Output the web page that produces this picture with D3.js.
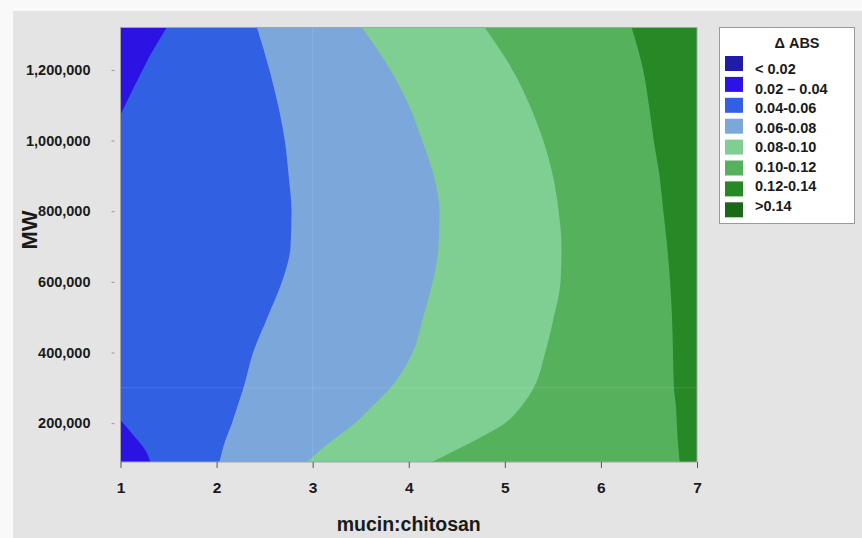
<!DOCTYPE html>
<html>
<head>
<meta charset="utf-8">
<script src="https://cdn.jsdelivr.net/npm/d3@7"></script>
<style>
  html, body { margin: 0; padding: 0; background: #f9f9f9; }
  svg { display: block; font-family: "Liberation Sans", Arial, sans-serif; }
  .tick text { font-weight: bold; fill: #1a1a1a; }
  .axis-label { font-weight: bold; fill: #1a1a1a; }
  .legend-text { font-weight: bold; fill: #1a1a1a; font-size: 14.5px; }
</style>
</head>
<body>
<div id="chart"></div>
<script>
// MW sample levels (y) and x-position (mucin:chitosan) of each contour boundary at those levels
const MW_LEVELS = [90000, 150000, 200000, 250000, 300000, 400000, 500000, 600000, 700000, 800000, 900000, 1000000, 1100000, 1200000, 1320000];
const EDGE_006 = [2.03, 2.09, 2.16, 2.22, 2.28, 2.38, 2.53, 2.68, 2.77, 2.78, 2.75, 2.71, 2.64, 2.55, 2.42];
const EDGE_008 = [2.94, 3.20, 3.44, 3.63, 3.81, 4.04, 4.15, 4.25, 4.31, 4.32, 4.26, 4.14, 4.00, 3.81, 3.51];
const EDGE_010 = [4.24, 4.68, 5.00, 5.18, 5.30, 5.42, 5.51, 5.58, 5.59, 5.56, 5.50, 5.40, 5.26, 5.08, 4.79];
const EDGE_012 = [6.82, 6.80, 6.79, 6.78, 6.76, 6.75, 6.74, 6.72, 6.69, 6.65, 6.61, 6.55, 6.50, 6.44, 6.32];

// the 0.04 boundary only appears in the two left corners
const TOP_CORNER_MW    = [1073000, 1146000, 1200000, 1242000, 1279000, 1320000];
const TOP_CORNER_X     = [1.00, 1.13, 1.23, 1.31, 1.39, 1.48];
const BOTTOM_CORNER_MW = [90000, 123000, 161000, 208000];
const BOTTOM_CORNER_X  = [1.31, 1.26, 1.15, 1.00];

const LEGEND_LABELS = ["< 0.02", "0.02 \u2013 0.04", "0.04-0.06", "0.06-0.08", "0.08-0.10", "0.10-0.12", "0.12-0.14", ">0.14"];
const LEGEND_COLORS = ["#1e1ca8", "#2b14e3", "#3260e3", "#7ba7da", "#80cf92", "#55b15c", "#278826", "#196a14"];

const X_TICKS = [1, 2, 3, 4, 5, 6, 7];
const Y_TICKS = [200000, 400000, 600000, 800000, 1000000, 1200000];

const W = 862, H = 538;
const MARGIN = { top: 27.5, right: 165, bottom: 76, left: 120.5 };

const svg = d3.select("#chart").append("svg")
  .attr("width", W).attr("height", H);

// grey panel
svg.append("rect")
  .attr("x", 13).attr("y", 11)
  .attr("width", W - 13).attr("height", H - 11)
  .attr("fill", "#e4e4e4");

const x = d3.scaleLinear().domain([1, 7]).range([MARGIN.left, W - MARGIN.right]);
const y = d3.scaleLinear().domain([90000, 1320000]).range([H - MARGIN.bottom, MARGIN.top]);

const plotG = svg.append("g");

// rightmost band fills the whole plot, the others are painted left of each boundary
plotG.append("rect")
  .attr("x", x(1)).attr("y", y(1320000))
  .attr("width", x(7) - x(1)).attr("height", y(90000) - y(1320000))
  .attr("fill", LEGEND_COLORS[6]);

const area = d3.area()
  .curve(d3.curveMonotoneY)
  .y(d => y(d[0]))
  .x0(x(1))
  .x1(d => x(d[1]));

const bands = [
  { mw: MW_LEVELS, xs: EDGE_012, color: LEGEND_COLORS[5] },
  { mw: MW_LEVELS, xs: EDGE_010, color: LEGEND_COLORS[4] },
  { mw: MW_LEVELS, xs: EDGE_008, color: LEGEND_COLORS[3] },
  { mw: MW_LEVELS, xs: EDGE_006, color: LEGEND_COLORS[2] },
  { mw: TOP_CORNER_MW, xs: TOP_CORNER_X, color: LEGEND_COLORS[1] },
  { mw: BOTTOM_CORNER_MW, xs: BOTTOM_CORNER_X, color: LEGEND_COLORS[1] }
];

plotG.selectAll(".band")
  .data(bands)
  .join("path")
  .attr("class", "band")
  .attr("fill", d => d.color)
  .attr("d", d => area(d3.zip(d.mw, d.xs)));

// faint grid seams
plotG.append("line")
  .attr("x1", x(3)).attr("x2", x(3))
  .attr("y1", y(1320000)).attr("y2", y(90000))
  .attr("stroke", "#fff").attr("stroke-opacity", 0.12);
plotG.append("line")
  .attr("x1", x(1)).attr("x2", x(7))
  .attr("y1", y(300000)).attr("y2", y(300000))
  .attr("stroke", "#fff").attr("stroke-opacity", 0.12);

// frame
plotG.append("rect")
  .attr("x", x(1)).attr("y", y(1320000))
  .attr("width", x(7) - x(1)).attr("height", y(90000) - y(1320000))
  .attr("fill", "none")
  .attr("stroke", "#a3a3a3").attr("stroke-width", 1);

// axes
svg.append("g")
  .attr("transform", `translate(0,${y(90000)})`)
  .call(d3.axisBottom(x).tickValues(X_TICKS).tickFormat(d3.format("d")).tickSize(6).tickPadding(14))
  .call(g => g.select(".domain").remove())
  .call(g => g.selectAll(".tick line").attr("stroke", "#555"))
  .call(g => g.selectAll(".tick text").attr("font-size", "15.5px"));

svg.append("g")
  .attr("transform", `translate(${x(1) - 6},0)`)
  .call(d3.axisLeft(y).tickValues(Y_TICKS).tickFormat(d3.format(",")).tickSize(3).tickPadding(21))
  .call(g => g.select(".domain").remove())
  .call(g => g.selectAll(".tick line").attr("stroke", "#999"))
  .call(g => g.selectAll(".tick text").attr("font-size", "14.5px"));

svg.append("text")
  .attr("class", "axis-label")
  .attr("x", (x(1) + x(7)) / 2).attr("y", 531)
  .attr("text-anchor", "middle")
  .attr("font-size", "19.5px")
  .text("mucin:chitosan");

svg.append("text")
  .attr("class", "axis-label")
  .attr("transform", "translate(37,230) rotate(-90)")
  .attr("text-anchor", "middle")
  .attr("font-size", "22px")
  .text("MW");

// legend
const legendG = svg.append("g");
legendG.append("rect")
  .attr("x", 719.5).attr("y", 27.5)
  .attr("width", 135).attr("height", 196)
  .attr("fill", "#fff").attr("stroke", "#9a9a9a");

legendG.append("text")
  .attr("class", "legend-text")
  .attr("x", 797).attr("y", 48)
  .attr("text-anchor", "middle")
  .attr("font-size", "14px")
  .text("\u0394 ABS");

const rows = legendG.selectAll(".row")
  .data(LEGEND_LABELS)
  .join("g")
  .attr("class", "row");

rows.append("rect")
  .attr("x", 725).attr("y", (d, i) => 56 + i * 20.9)
  .attr("width", 18).attr("height", 15)
  .attr("fill", (d, i) => LEGEND_COLORS[i]);

rows.append("text")
  .attr("class", "legend-text")
  .attr("x", 755).attr("y", (d, i) => 74 + i * 19.5)
  .text(d => d);
</script>
</body>
</html>
